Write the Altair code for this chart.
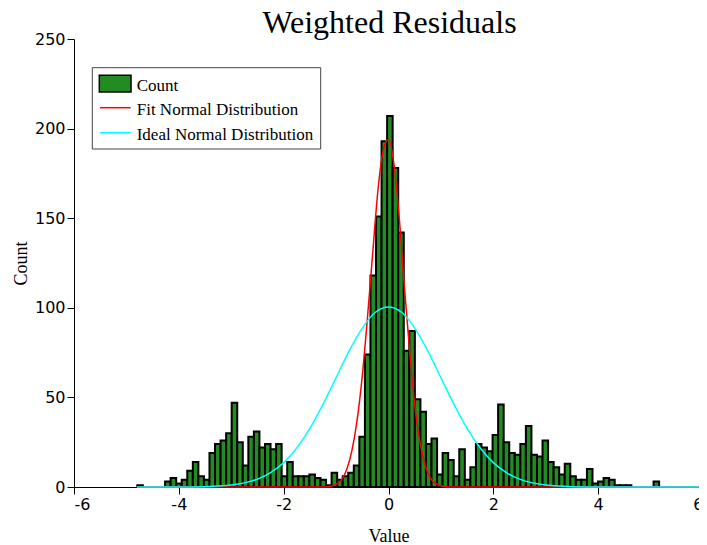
import altair as alt
import pandas as pd

# ---- data ----
bin_start = -4.792
bin_width = 0.1059
counts = [1, 0, 0, 0, 0, 3, 5, 2, 4, 9, 14, 6, 4,
          19, 24, 26, 30, 47,
          25, 12, 28, 31, 22, 24, 21, 24,
          6, 14, 6, 6, 6, 7, 5, 4,
          1, 8, 4, 6, 8, 12, 28, 74,
          118, 151, 193, 207, 178, 142,
          76, 87, 49, 42, 24, 27, 7, 19, 15, 6,
          21, 4, 11, 24, 22, 20, 29, 46,
          25, 19, 18, 24, 34, 18, 17, 26,
          14, 11, 7, 13, 6, 4, 4, 10,
          2, 3, 5, 4, 1, 1, 1,
          0, 0, 0, 0, 3]

fit_x = [-4.8, -1.2, -1.1, -1.0, -0.9, -0.8, -0.7, -0.6, -0.5, -0.4, -0.3, -0.2, -0.1,
         0.0, 0.1, 0.2, 0.3, 0.4, 0.5, 0.6, 0.7, 0.8, 0.9, 1.0, 1.1, 1.2, 6.0]
fit_y = [0, 0, 0.4, 1.5, 4, 9.5, 20, 37, 62, 95, 131, 166, 188,
         194, 181, 152, 113, 77, 46, 25, 12, 5, 2, 0.7, 0.2, 0, 0]

ideal_x = [-4.8, -4.0, -3.5, -3.25, -3.0, -2.75, -2.5, -2.25, -2.0, -1.75, -1.5, -1.25,
           -1.0, -0.75, -0.5, -0.25, 0.0, 0.25, 0.5, 0.75, 1.0, 1.25, 1.5, 1.75,
           2.0, 2.25, 2.5, 2.75, 3.0, 3.25, 3.5, 4.0, 6.0]
ideal_y = [0, 0, 0.2, 0.5, 1.1, 2.3, 4.4, 8, 13.6, 21.8, 32.7, 46.1,
           61, 76, 88.7, 97.5, 100.5, 97.5, 88.7, 76, 61, 46.1, 32.7, 21.8,
           13.6, 8, 4.4, 2.3, 1.1, 0.5, 0.2, 0, 0]

x_ticks = [-6, -4, -2, 0, 2, 4, 6]
y_ticks = [0, 50, 100, 150, 200, 250]
legend_labels = ["Count", "Fit Normal Distribution", "Ideal Normal Distribution"]
title_text = "Weighted Residuals"

# ---- build tables ----
lo = [bin_start + i * bin_width for i in range(len(counts))]
hist = pd.DataFrame({"lo": lo, "hi": [v + bin_width for v in lo], "count": counts})
hist = hist[hist["count"] > 0]
fit_df = pd.DataFrame({"x": fit_x, "y": fit_y})
ideal_df = pd.DataFrame({"x": ideal_x, "y": ideal_y})
one = pd.DataFrame({"a": [0]})

x_scale = alt.Scale(domain=[-6, 6], nice=False, zero=False)
y_scale = alt.Scale(domain=[0, 250], nice=False)
x_axis = alt.Axis(values=x_ticks, title="Value", labelExpr="toString(datum.value)")
y_axis = alt.Axis(values=y_ticks, title="Count", labelExpr="toString(datum.value)")

bars = alt.Chart(hist).mark_rect(fill="#228B22", stroke="black", strokeWidth=2).encode(
    x=alt.X("lo:Q", scale=x_scale, axis=x_axis),
    x2="hi:Q",
    y=alt.Y("count:Q", scale=y_scale, axis=y_axis),
    y2=alt.datum(0),
)

red = alt.Chart(fit_df).mark_line(color="#FF0000", strokeWidth=1.5, interpolate="monotone").encode(
    x=alt.X("x:Q", scale=x_scale, axis=x_axis),
    y=alt.Y("y:Q", scale=y_scale, axis=y_axis),
)
cyan = alt.Chart(ideal_df).mark_line(color="#00FFFF", strokeWidth=1.5, interpolate="monotone").encode(
    x=alt.X("x:Q", scale=x_scale, axis=x_axis),
    y=alt.Y("y:Q", scale=y_scale, axis=y_axis),
)

# ---- title and legend (drawn by hand, pixel positions relative to the plot area) ----
title = alt.Chart(one).mark_text(
    text=title_text, align="center", baseline="alphabetic", font="Liberation Serif",
    fontSize=32, color="black").encode(x=alt.value(315.5), y=alt.value(-6))

box = alt.Chart(one).mark_rect(fill="white", stroke="#444444", strokeWidth=1).encode(
    x=alt.value(18.3), x2=alt.value(246.7), y=alt.value(28.7), y2=alt.value(110))
swatch = alt.Chart(one).mark_rect(fill="#228B22", stroke="black", strokeWidth=1.5).encode(
    x=alt.value(25.3), x2=alt.value(57), y=alt.value(36.3), y2=alt.value(53))
red_key = alt.Chart(one).mark_rule(color="#FF0000", strokeWidth=1.5).encode(
    x=alt.value(26), x2=alt.value(56.7), y=alt.value(68.7))
cyan_key = alt.Chart(one).mark_rule(color="#00FFFF", strokeWidth=1.5).encode(
    x=alt.value(26), x2=alt.value(56.7), y=alt.value(93.7))
texts = []
for lab, ty in zip(legend_labels, [51.7, 76, 100.5]):
    texts.append(alt.Chart(one).mark_text(
        text=lab, align="left", baseline="alphabetic", font="Liberation Serif",
        fontSize=17, color="black").encode(x=alt.value(62.7), y=alt.value(ty)))

chart = alt.layer(bars, red, cyan, title, box, swatch, red_key, cyan_key, *texts).properties(
    width=629, height=448,
    autosize=alt.AutoSizeParams(type="none"),
    padding={"left": 66, "top": 31, "right": -4, "bottom": 58},
).configure_view(stroke=None).configure_axis(
    grid=False, domainColor="black", tickColor="black", tickSize=7,
    labelFont="DejaVu Sans", labelFontSize=16, labelColor="black", labelPadding=2,
    titleFont="Liberation Serif", titleFontSize=18, titleFontWeight="normal", titleColor="black",
).configure_axisX(titlePadding=15).configure_axisY(titlePadding=4)

chart.save("out.html", embed_options={"renderer": "svg", "actions": False})
